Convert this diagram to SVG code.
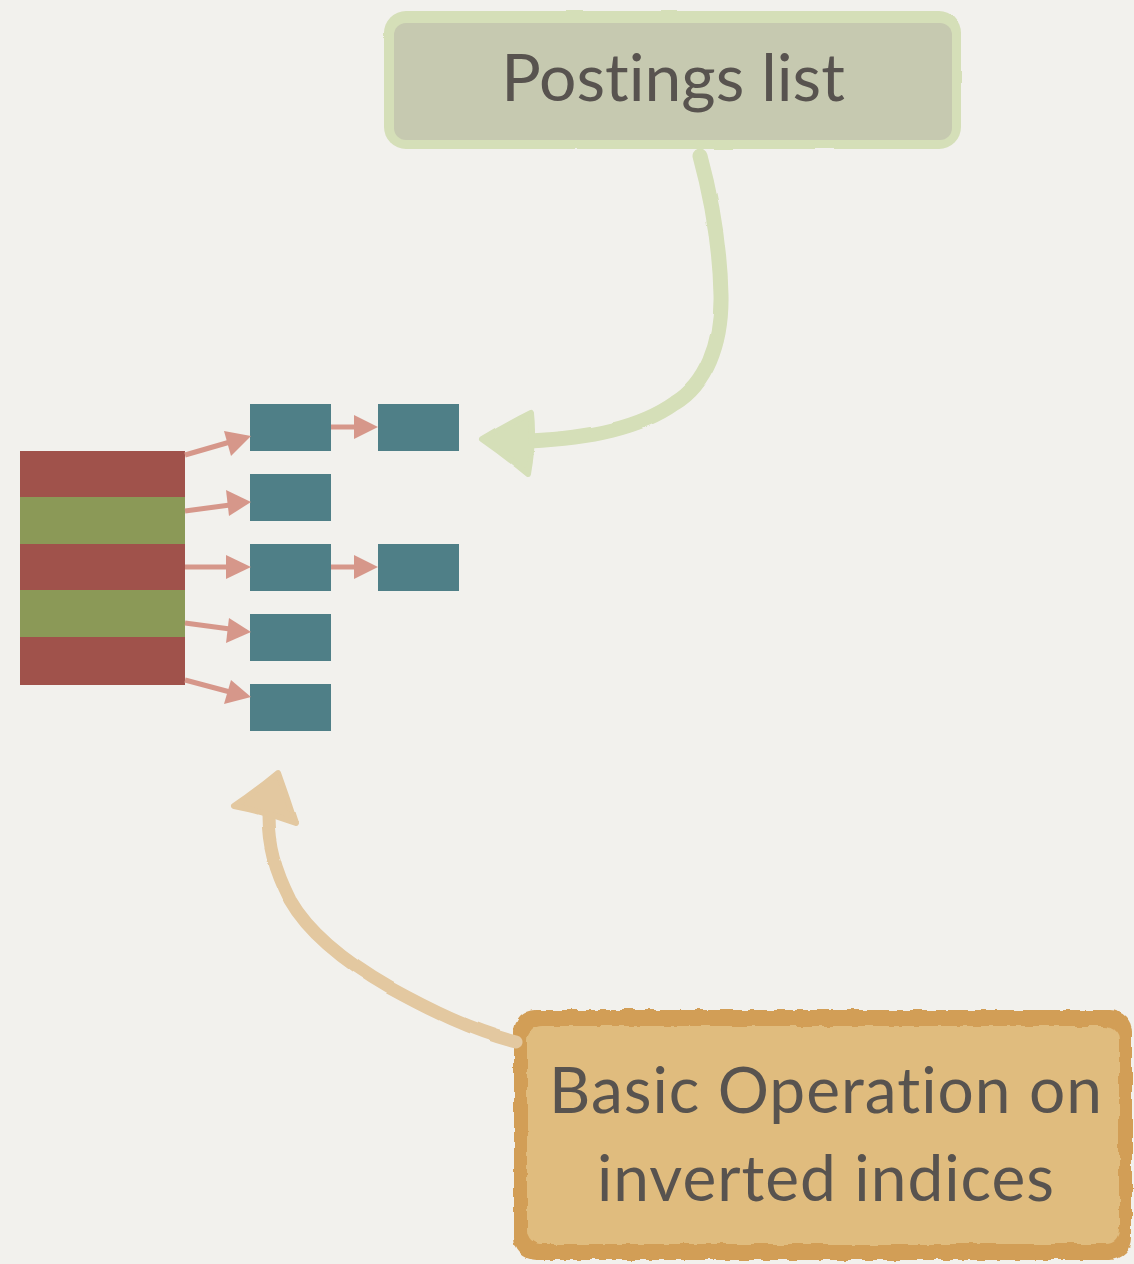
<svg xmlns="http://www.w3.org/2000/svg" width="1134" height="1264" viewBox="0 0 1134 1264">
  <defs>
    <style>
      .red { fill: #a0524b; }
      .grn { fill: #8b9957; }
      .teal { fill: #4f7f87; }
      .link { stroke: #d6978a; stroke-width: 5; fill: none; }
      .head { fill: #d6978a; }
      .label { font-family: Lato, "Open Sans", "Liberation Sans", sans-serif; fill: #58534f; text-anchor: middle; font-variant-ligatures: none; font-feature-settings: "liga" 0, "clig" 0; }
    </style>
    <filter id="rough" x="-5%" y="-5%" width="110%" height="110%">
      <feTurbulence type="fractalNoise" baseFrequency="0.08" numOctaves="2" seed="3" result="n"/>
      <feDisplacementMap in="SourceGraphic" in2="n" scale="6" xChannelSelector="R" yChannelSelector="G"/>
    </filter>
    <filter id="wobble" x="-5%" y="-5%" width="110%" height="110%">
      <feTurbulence type="fractalNoise" baseFrequency="0.02" numOctaves="1" seed="7" result="n"/>
      <feDisplacementMap in="SourceGraphic" in2="n" scale="3" xChannelSelector="R" yChannelSelector="G"/>
    </filter>
  </defs>

  <rect x="0" y="0" width="1134" height="1264" fill="#f2f1ed"/>

  <g id="dictionary">
    <rect class="red" x="20" y="451" width="165" height="47"/>
    <rect class="grn" x="20" y="497" width="165" height="47"/>
    <rect class="red" x="20" y="544" width="165" height="47"/>
    <rect class="grn" x="20" y="590" width="165" height="47"/>
    <rect class="red" x="20" y="637" width="165" height="48"/>
  </g>

  <g id="posting-1a"><rect class="teal" x="250" y="404" width="81" height="47"/></g>
  <g id="posting-1b"><rect class="teal" x="378" y="404" width="81" height="47"/></g>
  <g id="posting-2a"><rect class="teal" x="250" y="474" width="81" height="47"/></g>
  <g id="posting-3a"><rect class="teal" x="250" y="544" width="81" height="47"/></g>
  <g id="posting-3b"><rect class="teal" x="378" y="544" width="81" height="47"/></g>
  <g id="posting-4a"><rect class="teal" x="250" y="614" width="81" height="47"/></g>
  <g id="posting-5a"><rect class="teal" x="250" y="684" width="81" height="47"/></g>

  <g id="postings-label">
    <rect x="384" y="11" width="577" height="138" rx="22" fill="#d5dfb8" filter="url(#wobble)"/>
    <rect x="394" y="23" width="558" height="117" rx="12" fill="#c6c9b0"/>
    <text class="label" x="673" y="101" font-size="66">Postings list</text>
  </g>

  <g id="operation-label">
    <rect x="514" y="1010" width="618" height="250" rx="22" fill="#d29e57" filter="url(#rough)"/>
    <rect x="527" y="1026" width="592" height="218" rx="14" fill="#e0bc7e" filter="url(#rough)"/>
    <text class="label" x="826" y="1113" font-size="64" letter-spacing="1">Basic Operation on</text>
    <text class="label" x="826" y="1201" font-size="64" letter-spacing="1">inverted indices</text>
  </g>

  <g id="connectors">
    <line class="link" x1="185" y1="455" x2="230" y2="442"/>
    <polygon class="head" points="251,436 224,431 231,456"/>
    <line class="link" x1="185" y1="511" x2="230" y2="505"/>
    <polygon class="head" points="251,502 226,490 229,516"/>
    <line class="link" x1="185" y1="567" x2="230" y2="567"/>
    <polygon class="head" points="251,567 226,555 226,579"/>
    <line class="link" x1="185" y1="623" x2="230" y2="629"/>
    <polygon class="head" points="251,632 229,618 226,643"/>
    <line class="link" x1="185" y1="680" x2="230" y2="692"/>
    <polygon class="head" points="251,697 231,680 224,704"/>
    <line class="link" x1="331" y1="427" x2="358" y2="427"/>
    <polygon class="head" points="378,427 354,415 354,439"/>
    <line class="link" x1="331" y1="567" x2="358" y2="567"/>
    <polygon class="head" points="378,567 354,555 354,579"/>

    <g id="postings-pointer" filter="url(#wobble)">
      <path d="M700,156 C712,200 720,250 721,295 C722,345 705,385 675,403 C640,428 590,438 530,441" fill="none" stroke="#d5dfb8" stroke-width="15" stroke-linecap="round"/>
      <path d="M482,439 Q505,425 531,412 Q534,440 528,474 Q505,455 482,439 Z" fill="#d5dfb8" stroke="#d5dfb8" stroke-width="6" stroke-linejoin="round"/>
    </g>

    <g id="operation-pointer" filter="url(#wobble)">
      <path d="M516,1042 C470,1030 430,1010 390,988 C350,965 310,935 290,900 C275,870 268,845 268,815" fill="none" stroke="#e3c8a0" stroke-width="13" stroke-linecap="round"/>
      <path d="M278,773 Q255,792 234,806 Q265,812 295,823 Q287,798 278,773 Z" fill="#e3c8a0" stroke="#e3c8a0" stroke-width="6" stroke-linejoin="round"/>
    </g>
  </g>
</svg>
